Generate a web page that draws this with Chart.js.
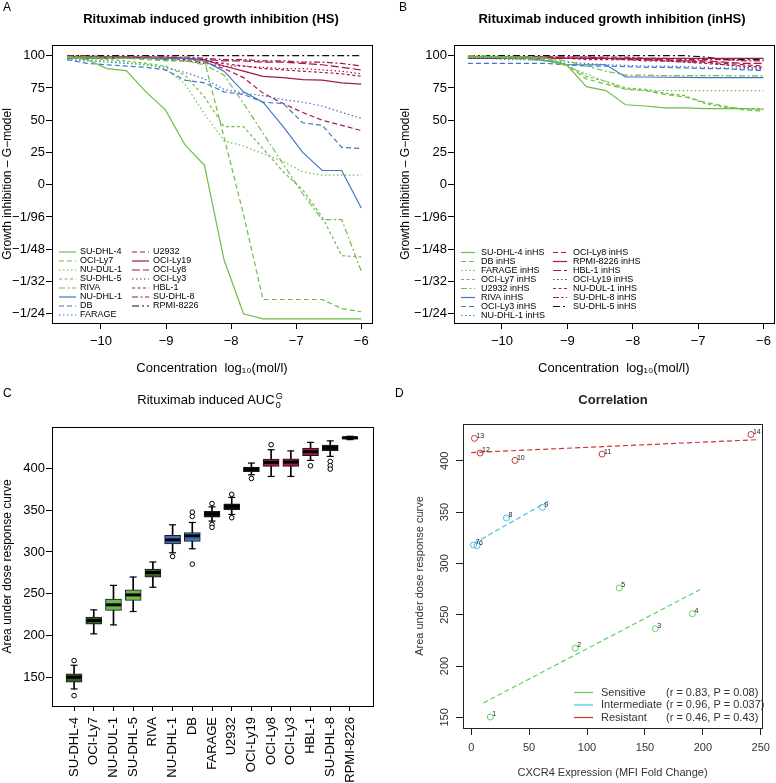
<!DOCTYPE html>
<html>
<head>
<meta charset="utf-8">
<title>Rituximab growth inhibition</title>
<script src="https://cdn.jsdelivr.net/npm/chart.js@4.4.1/dist/chart.umd.min.js"></script>
<style>
  body { margin: 0; background: #fff; font-family: 'Liberation Sans', Arial, sans-serif; }
  #wrap { position: relative; width: 776px; height: 783px; overflow: hidden; }
  canvas { position: absolute; }
  .lab { position: absolute; font-size: 12px; line-height: 14px; }
  .ttl { position: absolute; transform: translateX(-50%); white-space: nowrap; font-size: 13px; line-height: 16px; }
  .ss { display: inline-block; vertical-align: middle; font-size: 9px; line-height: 9px; margin-left: 1px; }
  .ss span { display: block; }
</style>
</head>
<body>
<div id="wrap">
  <canvas id="chartA" width="388" height="390" style="left:0;top:0"></canvas>
  <canvas id="chartB" width="388" height="390" style="left:388px;top:0"></canvas>
  <canvas id="chartC" width="388" height="393" style="left:0;top:390px"></canvas>
  <canvas id="chartD" width="388" height="393" style="left:388px;top:390px"></canvas>
  <div class="lab" style="left:3px;top:0">A</div>
  <div class="lab" style="left:399px;top:0">B</div>
  <div class="lab" style="left:3px;top:386px">C</div>
  <div class="lab" style="left:395px;top:386px">D</div>
  <div class="ttl" style="left:211px;top:11px;font-weight:bold">Rituximab induced growth inhibition (HS)</div>
  <div class="ttl" style="left:612px;top:11px;font-weight:bold">Rituximab induced growth inhibition (inHS)</div>
  <div class="ttl" style="left:210px;top:392px">Rituximab induced AUC<span class="ss"><span>G</span><span>0</span></span></div>
  <div class="ttl" style="left:613px;top:392px;font-weight:bold;color:#222">Correlation</div>
</div>

<script>
// ---- data ----
// concentration steps, log10(mol/l)
const conc = [-10.52, -10.21, -9.91, -9.61, -9.31, -9.01, -8.71, -8.41, -8.11, -7.81, -7.51, -7.20, -6.90, -6.60, -6.30, -6.00];
const xTicks = [-10, -9, -8, -7, -6];
const gTicks = [100, 75, 50, 25, 0, -25, -50, -75, -100];
const gTickLabels = ['100', '75', '50', '25', '0', '−1/96', '−1/48', '−1/32', '−1/24'];

// panel A, growth inhibition in HS
const hsSuDhl4 = [99, 97, 90, 88.5, 72, 58, 31, 15, -58, -100, -104, -104, -104, -104, -104, -104];
const hsOciLy7 = [99, 99, 98, 98, 97, 96, 96, 96, 37, -23, -89, -89, -89, -89, -96, -98.5];
const hsNuDul1 = [98, 97, 96, 95, 93, 90, 78, 55, 34, 30, 24, 18, 10, 7.5, 7.5, 7.5];
const hsSuDhl5 = [99, 98, 97, 96, 94, 92, 85, 68, 45, 45, 28, 10, -4, -25, -55, -56];
const hsRiva = [99, 99, 99, 98, 98, 97, 96, 93, 85, 63, 40, 16, -7, -27, -27, -67];
const hsNuDhl1 = [98, 98, 98, 98, 98, 98, 98, 96, 88, 72, 64, 45, 25, 11, 11, -18];
const hsDb = [97, 94, 93, 92, 91, 89, 81, 79, 72, 70, 64, 63, 48, 46, 29, 28];
const hsFarage = [97, 96, 95, 94, 93, 91, 87, 82, 74, 71, 69, 66, 64, 61, 56, 51.5];
const hsU2932 = [99, 99, 99, 98, 98, 97, 96, 95, 90, 83, 71, 63, 56, 50, 46, 42];
const hsOciLy19 = [99, 99, 99, 99, 99, 99, 98, 97, 92, 88, 84, 83, 81.5, 81, 79, 78];
const hsOciLy8 = [99, 99, 99, 99, 98, 98, 98, 97, 96, 96, 95, 95, 94, 93, 91, 89];
const hsOciLy3 = [99, 99, 99, 98, 98, 97, 96, 94, 92, 92, 91, 90, 90, 89, 88, 86];
const hsHbl1 = [99, 99, 99, 98, 98, 98, 97, 96, 94, 92, 90, 89, 88, 87, 86, 84];
const hsSuDhl8 = [100, 100, 99, 99, 99, 99, 99, 98, 97, 97, 96, 96, 95, 95, 94, 92];
const hsRpmi = [100, 100, 100, 100, 100, 100, 100, 100, 100, 100, 100, 100, 100, 100, 100, 100];

// panel B, growth inhibition in inactivated HS
const inSuDhl4 = [99, 99, 99, 99, 98, 93, 76, 73, 62, 61, 59.5, 59.5, 59, 59, 59, 58.5];
const inDb = [99, 99, 99, 98, 97, 93, 82, 78, 74, 73, 70, 68, 64, 61, 58, 57];
const inFarage = [99, 99, 98, 97, 96, 92, 86, 80, 74, 73, 73, 73, 73, 73, 73, 73];
const inOciLy7 = [99, 99, 98, 97, 96, 93, 84, 80, 75, 74, 71, 69, 63, 60, 59, 59];
const inU2932 = [100, 100, 99, 99, 98, 96, 92, 88, 85, 85, 84.5, 84.5, 84.5, 84.5, 84.3, 84.3];
const inRiva = [99, 99, 99, 98, 96, 93, 93, 93, 83.5, 83.5, 83.3, 83.2, 83, 83, 83, 83];
const inOciLy3 = [94, 94, 94, 94, 94, 93, 92, 92, 91.5, 91, 91, 90.5, 90, 90, 89, 88.5];
const inNuDhl1 = [98, 98, 97, 97, 96, 95, 94, 93, 92.5, 92, 92, 91.5, 91, 90.5, 90, 89];
const inOciLy8 = [99, 99, 99, 99, 99, 98, 98, 98, 97, 97, 96, 96, 95, 94, 93, 92];
const inRpmi = [98, 98, 98, 98, 98, 98, 98, 98, 98, 98, 98, 98, 98, 98, 98, 98];
const inHbl1 = [99, 99, 99, 99, 99, 99, 99, 98, 98, 97, 97, 96, 96, 95, 94, 94];
const inOciLy19 = [99, 99, 99, 99, 99, 98, 98, 98, 97, 97, 96, 95, 95, 93, 91, 90];
const inNuDul1 = [98, 98, 98, 98, 98, 98, 97, 97, 97, 96, 96, 95, 94, 93, 92, 91];
const inSuDhl8 = [99, 99, 99, 99, 99, 99, 99, 99, 99, 98, 98, 97, 97, 97, 96, 96];
const inSuDhl5 = [100, 100, 100, 100, 100, 100, 100, 100, 100, 100, 100, 100, 99, 97, 97, 97];

// panel C, AUC boxplots
const cLines = ['SU-DHL-4', 'OCI-Ly7', 'NU-DUL-1', 'SU-DHL-5', 'RIVA', 'NU-DHL-1', 'DB', 'FARAGE',
                'U2932', 'OCI-Ly19', 'OCI-Ly8', 'OCI-Ly3', 'HBL-1', 'SU-DHL-8', 'RPMI-8226'];
const cQ1 = [144, 213.5, 230, 241.9, 269.8, 309.7, 312.5, 341.7, 350.5, 396, 402.4, 402.4, 415.2, 421.2, 435];
const cMedian = [150, 218, 236.7, 248.6, 275.4, 314.5, 319.3, 345.7, 354.5, 399.2, 407.2, 407.6, 420, 424.8, 436.7];
const cQ3 = [154, 221.9, 243.5, 254.6, 279.4, 320, 323.3, 348.5, 357.7, 401.6, 411.2, 411.6, 424.4, 428, 438];
const cWhiskLo = [136, 202, 212.7, 228.7, 257.8, 299, 303.8, 337, 344.9, 392.4, 390.4, 390.4, 409.6, 414.4, 434.5];
const cWhiskHi = [164.4, 230.7, 260, 270, 288, 332.5, 335.3, 354, 365.3, 406.4, 422.4, 421, 431.2, 433, 438.5];
const cOutliers = [
  ['SU-DHL-4', 170], ['SU-DHL-4', 128], ['NU-DHL-1', 294.6],
  ['DB', 347.7], ['DB', 342.5], ['DB', 285.4],
  ['FARAGE', 358], ['FARAGE', 333], ['FARAGE', 329.5],
  ['U2932', 369], ['U2932', 341], ['OCI-Ly19', 388], ['OCI-Ly8', 428.4],
  ['HBL-1', 403.2], ['SU-DHL-8', 408.4], ['SU-DHL-8', 403.2], ['SU-DHL-8', 399.2]
];
const cTicks = [150, 200, 250, 300, 350, 400];

// panel D, CXCR4 expression vs AUC
const sensX = [16.5, 89.8, 159, 191, 127.8];
const sensY = [150.3, 217.5, 236.4, 251, 276];
const sensId = ['1', '2', '3', '4', '5'];
const interX = [5.1, 2, 30.4, 61.4];
const interY = [317.2, 317.9, 344.2, 354.5];
const interId = ['6', '7', '8', '9'];
const resX = [37.8, 113, 7.7, 2.8, 241.5];
const resY = [400.3, 406.5, 407.5, 421.8, 425.6];
const resId = ['10', '11', '12', '13', '14'];
const sensFitX = [10.5, 197.4], sensFitY = [164, 274.4];
const interFitX = [2.8, 67.3], interFitY = [319.8, 361];
const resFitX = [0, 247], resFitY = [408, 420.5];
const dTicksX = [0, 50, 100, 150, 200, 250];
const dTicksY = [150, 200, 250, 300, 350, 400];

// ---- styles ----
Chart.defaults.font.family = "'Liberation Sans', Arial, sans-serif";
Chart.defaults.color = '#000';

const GREEN = '#6fbd48', BLUE = '#4275c9', MAG = '#a0194f', BLACK = '#111';
const DASH = {
  solid: [], dashed: [5, 3], dotted: [1.5, 2.5], short: [3, 2.5],
  twodash: [6, 2.5, 2, 2.5], longdash: [8, 3], dotdash: [7, 3, 2, 3]
};

const minus = v => (v < 0 ? '−' + Math.abs(v) : String(v));

// box around plot area
const frame = {
  id: 'frame',
  afterDatasetsDraw(chart, args, o) {
    const a = chart.chartArea, ctx = chart.ctx;
    ctx.save();
    ctx.strokeStyle = o.color || '#000';
    ctx.lineWidth = 1;
    ctx.strokeRect(Math.round(a.left) + 0.5, Math.round(a.top) + 0.5,
                   Math.round(a.right - a.left), Math.round(a.bottom - a.top));
    ctx.restore();
  }
};

// line-style key drawn inside the plot
const lineKey = {
  id: 'lineKey',
  afterDraw(chart, args, o) {
    if (!o.items) return;
    const ctx = chart.ctx;
    ctx.save();
    ctx.font = o.font;
    ctx.textBaseline = 'middle';
    o.items.forEach((it, i) => {
      const col = Math.floor(i / o.perCol), row = i % o.perCol;
      const x = o.cols[col], y = o.top + row * o.rowH;
      ctx.strokeStyle = it.color;
      ctx.lineWidth = o.lineWidth || 1.2;
      ctx.setLineDash(it.dash);
      ctx.beginPath();
      ctx.moveTo(x, y);
      ctx.lineTo(x + o.lineLen, y);
      ctx.stroke();
      ctx.setLineDash([]);
      ctx.fillStyle = o.textColor || '#000';
      ctx.fillText(it.text, x + o.lineLen + o.gap, y);
      if (it.extra) ctx.fillText(it.extra, o.extraX, y);
    });
    ctx.restore();
  }
};

// small number tags next to points
const pointTags = {
  id: 'pointTags',
  afterDatasetsDraw(chart, args, o) {
    const ctx = chart.ctx;
    ctx.save();
    ctx.font = o.font || '7px sans-serif';
    ctx.fillStyle = o.color || '#000';
    ctx.textBaseline = 'bottom';
    chart.data.datasets.forEach((ds, i) => {
      if (!ds.tags) return;
      chart.getDatasetMeta(i).data.forEach((pt, j) => {
        ctx.fillText(ds.tags[j], pt.x + 2, pt.y + 1);
      });
    });
    ctx.restore();
  }
};

// ---- panels A and B ----
function curveChart(id, series, cfg) {
  return new Chart(document.getElementById(id), {
    type: 'line',
    data: {
      datasets: series.map(s => ({
        label: s.label,
        data: conc.map((c, i) => ({ x: c, y: s.data[i] })),
        borderColor: s.color,
        borderDash: s.dash,
        borderWidth: 1.2,
        pointRadius: 0,
        tension: 0,
        fill: false
      }))
    },
    options: {
      responsive: false,
      animation: false,
      layout: { padding: { top: 45, right: cfg.right, left: 0, bottom: 0 } },
      plugins: {
        legend: { display: false },
        tooltip: { enabled: false },
        lineKey: {
          items: series.map(s => ({ text: s.label, color: s.color, dash: s.dash })),
          perCol: cfg.perCol, cols: cfg.keyCols, top: cfg.keyTop, rowH: 9,
          lineLen: cfg.lineLen, gap: cfg.gap, font: '9px "Liberation Sans", Arial, sans-serif'
        }
      },
      scales: {
        x: {
          type: 'linear', min: cfg.xMin, max: cfg.xMax,
          afterBuildTicks: s => { s.ticks = xTicks.map(v => ({ value: v })); },
          afterFit: s => { s.height = 67; },
          border: { display: false },
          grid: { drawOnChartArea: false, tickLength: 6, color: '#000' },
          ticks: { font: { size: 13 }, padding: 5, maxRotation: 0, callback: v => minus(v) },
          title: { display: true, text: 'Concentration  log₁₀(mol/l)', font: { size: 13 }, padding: { top: 0, bottom: 14 } }
        },
        y: {
          min: -107.2, max: 108.3,
          afterBuildTicks: s => { s.ticks = gTicks.map(v => ({ value: v })); },
          afterFit: s => { s.width = cfg.yWidth; },
          border: { display: false },
          grid: { drawOnChartArea: false, tickLength: 6, color: '#000' },
          ticks: { font: { size: 13 }, padding: 1, callback: v => gTickLabels[gTicks.indexOf(v)] },
          title: { display: true, text: 'Growth inhibition – G−model', font: { size: 12 }, padding: { top: cfg.yTitlePad, bottom: 0 } }
        }
      }
    },
    plugins: [frame, lineKey]
  });
}

curveChart('chartA', [
  { label: 'SU-DHL-4', data: hsSuDhl4, color: GREEN, dash: DASH.solid },
  { label: 'OCI-Ly7', data: hsOciLy7, color: GREEN, dash: DASH.dashed },
  { label: 'NU-DUL-1', data: hsNuDul1, color: GREEN, dash: DASH.dotted },
  { label: 'SU-DHL-5', data: hsSuDhl5, color: GREEN, dash: DASH.short },
  { label: 'RIVA', data: hsRiva, color: GREEN, dash: DASH.twodash },
  { label: 'NU-DHL-1', data: hsNuDhl1, color: BLUE, dash: DASH.solid },
  { label: 'DB', data: hsDb, color: BLUE, dash: DASH.dashed },
  { label: 'FARAGE', data: hsFarage, color: BLUE, dash: DASH.dotted },
  { label: 'U2932', data: hsU2932, color: MAG, dash: DASH.dashed },
  { label: 'OCI-Ly19', data: hsOciLy19, color: MAG, dash: DASH.solid },
  { label: 'OCI-Ly8', data: hsOciLy8, color: MAG, dash: DASH.longdash },
  { label: 'OCI-Ly3', data: hsOciLy3, color: MAG, dash: DASH.dotted },
  { label: 'HBL-1', data: hsHbl1, color: MAG, dash: DASH.short },
  { label: 'SU-DHL-8', data: hsSuDhl8, color: MAG, dash: DASH.twodash },
  { label: 'RPMI-8226', data: hsRpmi, color: BLACK, dash: DASH.dotdash }
], { right: 16, yWidth: 52, yTitlePad: 0, xMin: -10.753, xMax: -5.835,
     perCol: 8, keyCols: [59, 132], keyTop: 252, lineLen: 17, gap: 4 });

curveChart('chartB', [
  { label: 'SU-DHL-4 inHS', data: inSuDhl4, color: GREEN, dash: DASH.solid },
  { label: 'DB inHS', data: inDb, color: GREEN, dash: DASH.dashed },
  { label: 'FARAGE inHS', data: inFarage, color: GREEN, dash: DASH.dotted },
  { label: 'OCI-Ly7 inHS', data: inOciLy7, color: GREEN, dash: DASH.short },
  { label: 'U2932 inHS', data: inU2932, color: GREEN, dash: DASH.twodash },
  { label: 'RIVA inHS', data: inRiva, color: BLUE, dash: DASH.solid },
  { label: 'OCI-Ly3 inHS', data: inOciLy3, color: BLUE, dash: DASH.dashed },
  { label: 'NU-DHL-1 inHS', data: inNuDhl1, color: BLUE, dash: DASH.dotted },
  { label: 'OCI-Ly8 inHS', data: inOciLy8, color: MAG, dash: DASH.dashed },
  { label: 'RPMI-8226 inHS', data: inRpmi, color: MAG, dash: DASH.solid },
  { label: 'HBL-1 inHS', data: inHbl1, color: MAG, dash: DASH.longdash },
  { label: 'OCI-Ly19 inHS', data: inOciLy19, color: MAG, dash: DASH.dotted },
  { label: 'NU-DUL-1 inHS', data: inNuDul1, color: MAG, dash: DASH.short },
  { label: 'SU-DHL-8 inHS', data: inSuDhl8, color: MAG, dash: DASH.twodash },
  { label: 'SU-DHL-5 inHS', data: inSuDhl5, color: BLACK, dash: DASH.dotdash }
], { right: 2, yWidth: 66, yTitlePad: 10, xMin: -10.733, xMax: -5.847,
     perCol: 8, keyCols: [73, 165], keyTop: 252.5, lineLen: 14, gap: 6 });

// ---- panel C ----
const cBoxColors = ['#355f25', '#355f25', '#6cbb46', '#6cbb46', '#355f25', '#3d6fbf', '#3d6fbf', '#111',
                    '#111', '#111', '#9e1a4f', '#9e1a4f', '#9e1a4f', '#111', '#111'];
const cPos = name => cLines.indexOf(name) + 1;

new Chart(document.getElementById('chartC'), {
  type: 'bar',
  data: {
    datasets: [
      {
        type: 'bar', order: 3, grouped: false, barThickness: 1,
        data: cLines.map((n, i) => ({ x: i + 1, y: [cWhiskLo[i], cWhiskHi[i]] })),
        backgroundColor: '#000'
      },
      {
        type: 'bar', order: 2, grouped: false, barThickness: 16,
        data: cLines.map((n, i) => ({ x: i + 1, y: [cQ1[i], cQ3[i]] })),
        backgroundColor: cBoxColors, borderColor: '#1a1a1a', borderWidth: 1, borderSkipped: false
      },
      {
        type: 'line', order: 1, showLine: false,
        data: cLines.map((n, i) => ({ x: i + 1, y: cWhiskLo[i] })).concat(
              cLines.map((n, i) => ({ x: i + 1, y: cWhiskHi[i] }))),
        pointStyle: 'line', pointRadius: 3.5, borderColor: '#000', borderWidth: 1.2
      },
      {
        type: 'line', order: 1, showLine: false,
        data: cLines.map((n, i) => ({ x: i + 1, y: cMedian[i] })),
        pointStyle: 'line', pointRadius: 7.5, borderColor: '#000', borderWidth: 3
      },
      {
        type: 'line', order: 0, showLine: false,
        data: cOutliers.map(o => ({ x: cPos(o[0]), y: o[1] })),
        pointStyle: 'circle', pointRadius: 2.3, borderColor: '#000', backgroundColor: '#fff', borderWidth: 1
      }
    ]
  },
  options: {
    responsive: false,
    animation: false,
    layout: { padding: { top: 37, right: 15, left: 0, bottom: 0 } },
    plugins: { legend: { display: false }, tooltip: { enabled: false } },
    scales: {
      x: {
        type: 'linear', min: -0.12, max: 16.17, offset: false,
        afterBuildTicks: s => { s.ticks = cLines.map((n, i) => ({ value: i + 1 })); },
        afterFit: s => { s.height = 77; },
        border: { display: false },
        grid: { offset: false, drawOnChartArea: false, tickLength: 5, color: '#000' },
        ticks: { font: { size: 13 }, padding: 6, autoSkip: false, minRotation: 90, maxRotation: 90,
                 callback: v => cLines[v - 1] }
      },
      y: {
        min: 115.6, max: 449.6,
        afterBuildTicks: s => { s.ticks = cTicks.map(v => ({ value: v })); },
        afterFit: s => { s.width = 52; },
        border: { display: false },
        grid: { drawOnChartArea: false, tickLength: 6, color: '#000' },
        ticks: { font: { size: 13 }, padding: 1 },
        title: { display: true, text: 'Area under dose response curve', font: { size: 12 }, padding: { top: 0, bottom: 0 } }
      }
    }
  },
  plugins: [frame]
});

// ---- panel D ----
const D_GREEN = '#62d162', D_BLUE = '#48c0e6', D_RED = '#cc3535', D_TEXT = '#333';
const pts = (xs, ys) => xs.map((x, i) => ({ x: x, y: ys[i] }));

new Chart(document.getElementById('chartD'), {
  type: 'scatter',
  data: {
    datasets: [
      { data: pts(sensFitX, sensFitY), showLine: true, pointRadius: 0, borderColor: D_GREEN, borderDash: [5, 3], borderWidth: 1.2 },
      { data: pts(interFitX, interFitY), showLine: true, pointRadius: 0, borderColor: D_BLUE, borderDash: [5, 3], borderWidth: 1.2 },
      { data: pts(resFitX, resFitY), showLine: true, pointRadius: 0, borderColor: D_RED, borderDash: [5, 3], borderWidth: 1.2 },
      { data: pts(sensX, sensY), tags: sensId, pointRadius: 3, borderColor: D_GREEN, backgroundColor: 'rgba(0,0,0,0)', borderWidth: 1 },
      { data: pts(interX, interY), tags: interId, pointRadius: 3, borderColor: D_BLUE, backgroundColor: 'rgba(0,0,0,0)', borderWidth: 1 },
      { data: pts(resX, resY), tags: resId, pointRadius: 3, borderColor: D_RED, backgroundColor: 'rgba(0,0,0,0)', borderWidth: 1 }
    ]
  },
  options: {
    responsive: false,
    animation: false,
    layout: { padding: { top: 34, right: 10, left: 0, bottom: 0 } },
    plugins: {
      legend: { display: false },
      tooltip: { enabled: false },
      pointTags: { font: '7px "Liberation Sans", Arial, sans-serif', color: '#222' },
      lineKey: {
        items: [
          { text: 'Sensitive', extra: '(r = 0.83, P = 0.08)', color: D_GREEN, dash: [] },
          { text: 'Intermediate', extra: '(r = 0.96, P = 0.037)', color: D_BLUE, dash: [] },
          { text: 'Resistant', extra: '(r = 0.46, P = 0.43)', color: D_RED, dash: [] }
        ],
        perCol: 3, cols: [186], top: 302.5, rowH: 12.5, lineLen: 19, gap: 8, extraX: 278,
        font: '11px "Liberation Sans", Arial, sans-serif', textColor: D_TEXT
      },
      frame: { color: '#222' }
    },
    scales: {
      x: {
        type: 'linear', min: -7.07, max: 251.1,
        afterBuildTicks: s => { s.ticks = dTicksX.map(v => ({ value: v })); },
        afterFit: s => { s.height = 55; },
        border: { display: false },
        grid: { drawOnChartArea: false, tickLength: 7, color: '#222' },
        ticks: { font: { size: 11 }, color: D_TEXT, padding: 6, maxRotation: 0 },
        title: { display: true, text: 'CXCR4 Expression (MFI Fold Change)', font: { size: 11 }, color: D_TEXT, padding: { top: 0, bottom: 3 } }
      },
      y: {
        min: 139.6, max: 435.8,
        afterBuildTicks: s => { s.ticks = dTicksY.map(v => ({ value: v })); },
        afterFit: s => { s.width = 75; },
        border: { display: false },
        grid: { drawOnChartArea: false, tickLength: 7, color: '#222' },
        ticks: { font: { size: 11 }, color: D_TEXT, padding: 2, minRotation: 90, maxRotation: 90, crossAlign: 'center' },
        title: { display: true, text: 'Area under dose response curve', font: { size: 11 }, color: D_TEXT, padding: { top: 25, bottom: 0 } }
      }
    }
  },
  plugins: [frame, lineKey, pointTags]
});
</script>
</body>
</html>
